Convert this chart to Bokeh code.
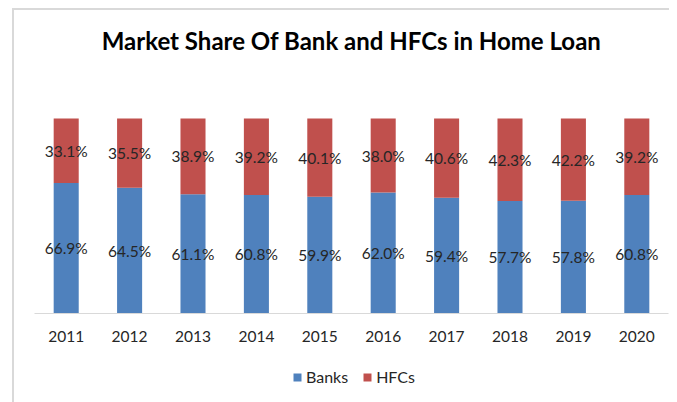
from bokeh.plotting import figure
from bokeh.layouts import column
from bokeh.models import (ColumnDataSource, FactorRange, Range1d, LabelSet, Label,
                          Legend, LegendItem)
from bokeh.core.properties import value
from bokeh.embed import file_html
from bokeh.resources import INLINE

title = "Market Share Of Bank and HFCs in Home Loan"
years = ["2011", "2012", "2013", "2014", "2015", "2016", "2017", "2018", "2019", "2020"]
banks = [66.9, 64.5, 61.1, 60.8, 59.9, 62.0, 59.4, 57.7, 57.8, 60.8]
hfcs = [33.1, 35.5, 38.9, 39.2, 40.1, 38.0, 40.6, 42.3, 42.2, 39.2]
series = ["Banks", "HFCs"]

BLUE = "#4F81BD"
RED = "#C0504D"
FONT = "Lato"
W = 669
FRAME_TOP, FRAME_BASE, BAR_TOP = 0, 313, 118   # page pixels

src = ColumnDataSource(dict(years=years, banks=banks, hfcs=hfcs))

y_end = 100 * (FRAME_BASE - FRAME_TOP) / (FRAME_BASE - BAR_TOP)
p = figure(x_range=FactorRange(*years), y_range=Range1d(0, y_end),
           width=W, height=350, output_backend="svg", toolbar_location=None,
           min_border_left=34, min_border_right=1, min_border_top=0, min_border_bottom=37)
p.title.visible = False
p.border_fill_color = None
p.background_fill_color = None

r = p.vbar_stack(["banks", "hfcs"], x="years", width=0.395, color=[BLUE, RED],
                 line_color=None, source=src)

lab_src = ColumnDataSource(dict(
    x=years + years,
    y=[b / 2 for b in banks] + [b + h / 2 for b, h in zip(banks, hfcs)],
    t=[f"{v:.1f}%" for v in banks] + [f"{v:.1f}%" for v in hfcs],
))
labels = LabelSet(x="x", y="y", text="t", source=lab_src, text_align="center",
                  text_baseline="middle", text_font=value(FONT), text_font_size=value("15.5px"),
                  text_color=value("#262626"))
p.add_layout(labels)

p.add_layout(Label(x=317, y=FRAME_BASE - 40, x_units="screen", y_units="screen",
                   text=title, text_align="center", text_baseline="middle",
                   text_font=FONT, text_font_size="24px", text_font_style="bold",
                   text_color="#000000"))

p.yaxis.visible = False
p.xgrid.grid_line_color = None
p.ygrid.grid_line_color = None
p.outline_line_color = None
p.xaxis.axis_line_color = "#d9d9d9"
p.xaxis.major_tick_line_color = None
p.xaxis.minor_tick_line_color = None
p.xaxis.major_label_standoff = 11
p.xaxis.major_label_text_font = FONT
p.xaxis.major_label_text_font_size = "15.5px"
p.xaxis.major_label_text_color = "#262626"
p.x_range.range_padding = 0
p.x_range.group_padding = 0

# legend strip below the chart
lp = figure(width=W, height=52, x_range=Range1d(0, 1), y_range=Range1d(0, 1),
            output_backend="svg", toolbar_location=None, x_axis_type=None, y_axis_type=None,
            min_border_left=0, min_border_right=0, min_border_top=0, min_border_bottom=0)
lp.title.visible = False
lp.border_fill_color = None
lp.background_fill_color = None
lp.xgrid.grid_line_color = None
lp.ygrid.grid_line_color = None
lp.outline_line_color = None
proxy = ColumnDataSource(dict(x=[0.5], top=[0.0]))
lr1 = lp.vbar(x="x", top="top", width=0.0, color=BLUE, line_color=None, source=proxy)
lr2 = lp.vbar(x="x", top="top", width=0.0, color=RED, line_color=None, source=proxy)
legend = Legend(items=[LegendItem(label=series[0], renderers=[lr1]),
                       LegendItem(label=series[1], renderers=[lr2])],
                orientation="horizontal", location=(258, 16),
                label_text_font=FONT, label_text_font_size="16px",
                label_text_color="#262626", glyph_width=10, glyph_height=10,
                spacing=14, label_standoff=4, border_line_color=None,
                background_fill_alpha=0, margin=0, padding=0)
lp.add_layout(legend, "center")

g = "linear-gradient(#d9d9d9, #d9d9d9)"
layout = column(p, lp, styles={
    "background": f"{g} 12px 8px / 2px 400px no-repeat, {g} 12px 8px / 660px 2px no-repeat, #ffffff",
})

open("out.html", "w").write(file_html(layout, INLINE))
